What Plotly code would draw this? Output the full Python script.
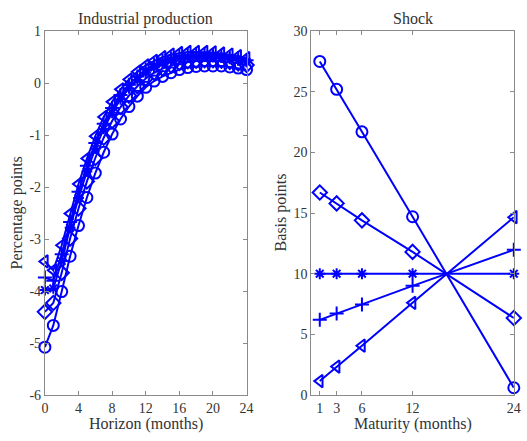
import plotly.graph_objects as go

# ---- data ----
horizon = list(range(25))
ip_circle = [-5.08, -4.66, -4.01, -3.33, -2.74, -2.20, -1.73, -1.33, -0.98, -0.69, -0.45, -0.25, -0.08,
             0.04, 0.13, 0.20, 0.26, 0.30, 0.32, 0.33, 0.33, 0.33, 0.31, 0.29, 0.26]
ip_diamond = [-4.40, -4.23, -3.65, -2.99, -2.41, -1.89, -1.44, -1.05, -0.73, -0.46, -0.24, -0.06, 0.09,
              0.20, 0.28, 0.34, 0.39, 0.42, 0.43, 0.44, 0.44, 0.43, 0.41, 0.38, 0.35]
ip_star = [-3.98, -3.95, -3.42, -2.78, -2.21, -1.70, -1.26, -0.88, -0.57, -0.31, -0.10, 0.06, 0.20,
           0.30, 0.38, 0.43, 0.47, 0.50, 0.51, 0.51, 0.50, 0.49, 0.47, 0.44, 0.41]
ip_plus = [-3.74, -3.80, -3.29, -2.67, -2.09, -1.59, -1.15, -0.78, -0.48, -0.23, -0.03, 0.13, 0.26,
           0.36, 0.43, 0.48, 0.52, 0.54, 0.55, 0.55, 0.54, 0.52, 0.50, 0.48, 0.44]
ip_triangle = [-3.43, -3.60, -3.12, -2.51, -1.94, -1.45, -1.02, -0.65, -0.36, -0.12, 0.07, 0.22, 0.34,
               0.43, 0.50, 0.55, 0.58, 0.60, 0.60, 0.60, 0.59, 0.57, 0.55, 0.52, 0.48]

maturity = [1, 3, 6, 12, 24]
shock_circle = [27.5, 25.2, 21.7, 14.7, 0.6]
shock_diamond = [16.7, 15.8, 14.4, 11.8, 6.35]
shock_star = [10.0, 10.0, 10.0, 10.0, 10.0]
shock_plus = [6.2, 6.73, 7.47, 9.0, 11.97]
shock_triangle = [1.15, 2.35, 4.07, 7.6, 14.66]

left_xticks = [0, 4, 8, 12, 16, 20, 24]
left_yticks = [-6, -5, -4, -3, -2, -1, 0, 1]
right_xticks = [1, 3, 6, 12, 24]
right_yticks = [0, 5, 10, 15, 20, 25, 30]

BLUE = "#0000ff"
FONT = "Liberation Serif"
TXT = "#333333"
AXC = "#8a8a8a"

fig = go.Figure()

series = [
    (ip_circle, shock_circle, "circle-open", 11),
    (ip_diamond, shock_diamond, "diamond-open", 11),
    (ip_star, shock_star, "asterisk-open", 9),
    (ip_plus, shock_plus, "cross-thin-open", 10),
    (ip_triangle, shock_triangle, "triangle-left-open", 11),
]

for ip, sh, sym, sz in series:
    fig.add_trace(go.Scatter(x=horizon, y=ip, mode="lines+markers", xaxis="x", yaxis="y",
                             line=dict(color=BLUE, width=2),
                             marker=dict(symbol=sym, size=sz, color=BLUE, line=dict(color=BLUE, width=2)),
                             cliponaxis=False, showlegend=False))
    fig.add_trace(go.Scatter(x=maturity, y=sh, mode="lines+markers", xaxis="x2", yaxis="y2",
                             line=dict(color=BLUE, width=2),
                             marker=dict(symbol=sym, size=sz, color=BLUE, line=dict(color=BLUE, width=2)),
                             cliponaxis=False, showlegend=False))

W, H = 527, 441
yd = [1 - 401.7 / H, 1 - 25 / H]

axis_common = dict(showline=True, linecolor=AXC, linewidth=1, mirror="ticks", ticks="inside",
                   ticklen=4, tickcolor=AXC, showgrid=False, zeroline=False,
                   tickfont=dict(family=FONT, size=14, color=TXT))

fig.update_layout(
    width=W, height=H, margin=dict(l=0, r=0, t=0, b=0),
    paper_bgcolor="white", plot_bgcolor="white",
    font=dict(family=FONT, color=TXT),
    xaxis=dict(domain=[42.7 / W, 248.3 / W], range=[0, 24], anchor="y",
               tickvals=left_xticks, ticktext=[str(v) for v in left_xticks], **axis_common),
    yaxis=dict(domain=yd, range=[-6, 1], anchor="x",
               tickvals=left_yticks, ticktext=[str(v) for v in left_yticks], **axis_common),
    xaxis2=dict(domain=[314.3 / W, 520.7 / W], range=[0, 24], anchor="y2",
                tickvals=right_xticks, ticktext=[str(v) for v in right_xticks], **axis_common),
    yaxis2=dict(domain=yd, range=[0, 30], anchor="x2",
                tickvals=right_yticks, ticktext=[str(v) for v in right_yticks], **axis_common),
)

def ann(text, x, y, angle=0, size=16):
    fig.add_annotation(text=text, x=x / W, y=1 - y / H, xref="paper", yref="paper",
                       showarrow=False, textangle=angle, xanchor="center", yanchor="middle",
                       font=dict(family=FONT, size=size, color=TXT))

ann("Industrial production", 145.5, 12)
ann("Shock", 417.5, 12)
ann("Horizon (months)", 145.5, 432)
ann("Maturity (months)", 417.5, 432)
ann("Percentage points", 14, 213, angle=-90)
ann("Basis points", 283, 213, angle=-90)

fig.write_html("out.html")
